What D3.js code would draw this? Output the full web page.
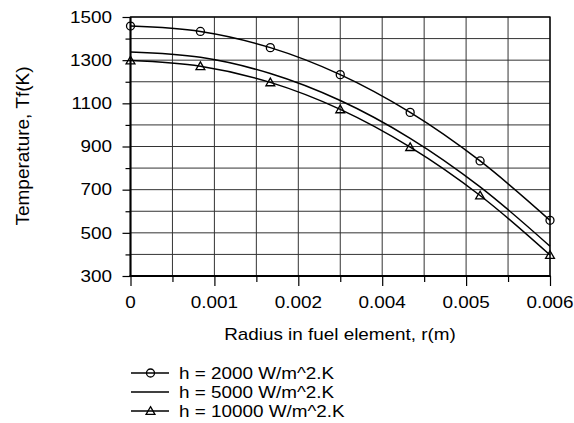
<!DOCTYPE html>
<html><head><meta charset="utf-8">
<script src="https://cdn.jsdelivr.net/npm/d3@7"></script>
<style>body{margin:0;background:#fff}svg{display:block}</style>
</head><body>
<svg id="c" width="574" height="423"></svg>
<script>
// ---- data ----
const radius = [0, 0.001, 0.002, 0.003, 0.004, 0.005, 0.006];
const h2000 = [1458, 1433, 1358, 1233, 1058, 833, 558];
const h5000 = [1338, 1313, 1238, 1113, 938, 713, 438];
const h10000 = [1298, 1272, 1197, 1072, 897, 673, 397];
const seriesNames = ["h = 2000 W/m^2.K", "h = 5000 W/m^2.K", "h = 10000 W/m^2.K"];
const markerTypes = ["circle", "none", "triangle"];
const xMajorTicks = [0, 0.0012, 0.0024, 0.0036, 0.0048, 0.006];
const xTickLabels = ["0", "0.001", "0.002", "0.004", "0.005", "0.006"];
const xMinorTicks = [0.0006, 0.0018, 0.003, 0.0042, 0.0054];
const yMajorTicks = [300, 500, 700, 900, 1100, 1300, 1500];
const yMinorTicks = [400, 600, 800, 1000, 1200, 1400];
const xTitle = "Radius in fuel element, r(m)";
const yTitle = "Temperature, Tf(K)";

// ---- layout ----
const svg = d3.select("#c");
const L = 130.5, R = 550, T = 17, B = 276;
const FS = 16, SX = 1.18;
const font = "'Liberation Sans', Arial, sans-serif";
const x = d3.scaleLinear().domain([0, 0.006]).range([L, R]);
const y = d3.scaleLinear().domain([300, 1500]).range([B, T]);

function label(g, tx, ty, txt, anchor, rot, fs, sx) {
  g.append("text")
    .attr("transform", `translate(${tx},${ty}) scale(${sx || SX},1)` + (rot ? ` rotate(${rot})` : ""))
    .attr("text-anchor", anchor)
    .attr("font-family", font).attr("font-size", fs || FS).attr("fill", "#000")
    .text(txt);
}

// gridlines
const grid = svg.append("g").attr("stroke", "#333").attr("stroke-width", 1);
[...xMajorTicks, ...xMinorTicks].forEach(v => {
  grid.append("line").attr("x1", x(v)).attr("x2", x(v)).attr("y1", T).attr("y2", B);
});
[...yMajorTicks, ...yMinorTicks].forEach(v => {
  grid.append("line").attr("x1", L).attr("x2", R).attr("y1", y(v)).attr("y2", y(v));
});

// frame
svg.append("rect").attr("x", L).attr("y", T).attr("width", R - L).attr("height", B - T)
  .attr("fill", "none").attr("stroke", "#000").attr("stroke-width", 1.3);

// axes (ticks via d3 axes)
const yAxisMajor = d3.axisLeft(y).tickValues(yMajorTicks).tickSize(8).tickFormat("");
const yAxisMinor = d3.axisLeft(y).tickValues(yMinorTicks).tickSize(5).tickFormat("");
const xAxisMajor = d3.axisBottom(x).tickValues(xMajorTicks).tickSize(10).tickFormat("");
const xAxisMinor = d3.axisBottom(x).tickValues(xMinorTicks).tickSize(6).tickFormat("");
[yAxisMajor, yAxisMinor].forEach(a => {
  const g = svg.append("g").attr("transform", `translate(${L},0)`).call(a);
  g.selectAll("path").remove();
  g.selectAll("line").attr("stroke", "#000").attr("stroke-width", 1.2);
});
[xAxisMajor, xAxisMinor].forEach(a => {
  const g = svg.append("g").attr("transform", `translate(0,${B})`).call(a);
  g.selectAll("path").remove();
  g.selectAll("line").attr("stroke", "#000").attr("stroke-width", 1.2);
});
svg.append("line").attr("x1", L).attr("x2", L).attr("y1", T).attr("y2", B + 1)
  .attr("stroke", "#000").attr("stroke-width", 2);
svg.append("line").attr("x1", L - 1).attr("x2", R + 0.5).attr("y1", B).attr("y2", B)
  .attr("stroke", "#000").attr("stroke-width", 2.2);

// tick labels
const lab = svg.append("g");
yMajorTicks.forEach(v => label(lab, 112, y(v) + 5.8, String(v), "end"));
xMajorTicks.forEach((v, i) => label(lab, x(v), 308, xTickLabels[i], "middle"));
label(lab, 340, 340, xTitle, "middle");
label(lab, 29, 146, yTitle, "middle", -90, 19, 1);

// series
const data = [h2000, h5000, h10000];
const line = d3.line().x((d, i) => x(radius[i])).y(d => y(d)).curve(d3.curveCatmullRom.alpha(0.5));
const series = svg.append("g");
data.forEach((vals, si) => {
  series.append("path").attr("d", line(vals)).attr("fill", "none")
    .attr("stroke", "#000").attr("stroke-width", 1.5);
});
function drawMarker(g, type, cx, cy) {
  if (type === "circle") {
    g.append("circle").attr("cx", cx).attr("cy", cy).attr("r", 4)
      .attr("fill", "none").attr("stroke", "#000").attr("stroke-width", 1.3);
  } else if (type === "triangle") {
    const sym = d3.symbol().type(d3.symbolTriangle).size(34);
    g.append("path").attr("d", sym()).attr("transform", `translate(${cx},${cy + 0.8})`)
      .attr("fill", "none").attr("stroke", "#000").attr("stroke-width", 1.3);
  }
}
data.forEach((vals, si) => {
  vals.forEach((v, i) => drawMarker(series, markerTypes[si], x(radius[i]), y(v)));
});

// legend
const leg = svg.append("g");
const legY = [373, 392, 411];
seriesNames.forEach((name, i) => {
  leg.append("line").attr("x1", 131).attr("x2", 169).attr("y1", legY[i]).attr("y2", legY[i])
    .attr("stroke", "#000").attr("stroke-width", 1.5);
  drawMarker(leg, markerTypes[i], 150.5, legY[i]);
  label(leg, 179, legY[i] + 5.8, name, "start");
});
</script>
</body></html>
